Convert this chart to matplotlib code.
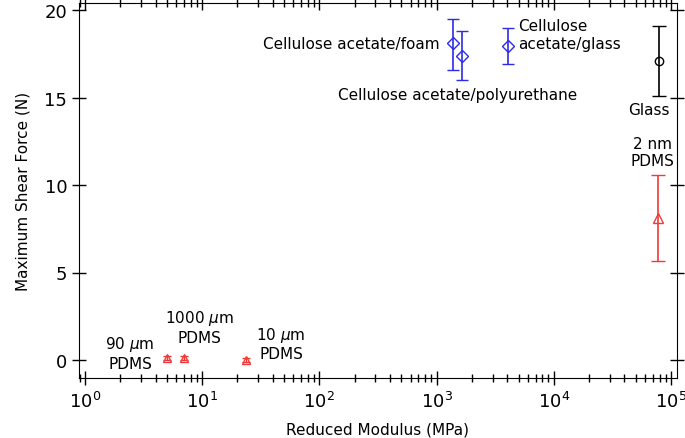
import matplotlib
matplotlib.use("Agg")
import matplotlib.pyplot as plt
from matplotlib.ticker import LogLocator, NullFormatter, MultipleLocator

plt.rcParams['font.family'] = ['DejaVu Sans']

# Data
pdms_x = [5.0, 7.0, 23.6]
pdms_y = [0.10, 0.10, 0.02]
pdms_err = [0.12, 0.12, 0.12]

ca_x = [1380, 1650, 4070]
ca_y = [18.1, 17.4, 17.95]
ca_err_lo = [1.5, 1.4, 1.05]
ca_err_hi = [1.4, 1.4, 1.0]

glass_x = [79000]
glass_y = [17.1]
glass_err_lo = [2.0]
glass_err_hi = [1.97]

nm2_x = [77000]
nm2_y = [8.13]
nm2_err_lo = [2.5]
nm2_err_hi = [2.45]

red = '#f03a3a'
blue = '#2b2be8'

fig = plt.figure(figsize=(6.85, 4.39), dpi=100)
ax = fig.add_axes([79/685, 1-379/439, (677-79)/685, (379-4)/439])

ax.errorbar(pdms_x, pdms_y, yerr=pdms_err, fmt='^', mfc='none', mec=red, ecolor=red,
            ms=6, capsize=3, elinewidth=1, lw=0)
ax.errorbar(ca_x, ca_y, yerr=[ca_err_lo, ca_err_hi], fmt='D', mfc='none', mec=blue, ecolor=blue,
            ms=6, capsize=4.5, elinewidth=1.2)
ax.errorbar(glass_x, glass_y, yerr=[glass_err_lo, glass_err_hi], fmt='o', mfc='none', mec='black',
            ecolor='black', ms=6, capsize=5, elinewidth=1.2)
ax.errorbar(nm2_x, nm2_y, yerr=[nm2_err_lo, nm2_err_hi], fmt='^', mfc='none', mec=red, ecolor=red,
            ms=7, capsize=5, elinewidth=1.2)

dec = 117.2
ax.set_xscale('log')
ax.set_xlim(10**(-6/dec), 10**(5+6/dec))
ax.set_ylim(-(379-361)/17.5, 20 + 7/17.5)

ax.xaxis.set_major_locator(LogLocator(base=10, numticks=10))
ax.xaxis.set_minor_locator(LogLocator(base=10, subs=range(2, 10), numticks=100))
ax.xaxis.set_minor_formatter(NullFormatter())
ax.yaxis.set_major_locator(MultipleLocator(5))

ax.tick_params(which='major', direction='inout', length=10, width=1, labelsize=13,
               top=True, right=True)
ax.tick_params(which='minor', direction='inout', length=6, width=1, top=True, right=True)
ax.tick_params(axis='x', which='major', pad=4)

ax.set_xlabel('Reduced Modulus (MPa)', fontsize=11, labelpad=8)
ax.set_ylabel('Maximum Shear Force (N)', fontsize=11, labelpad=10)

fs = 11
ax.text(1070, 18.1, 'Cellulose acetate/foam', ha='right', va='center', fontsize=fs)
ax.text(4950, 18.6, 'Cellulose\nacetate/glass', ha='left', va='center', fontsize=fs, linespacing=1.2)
ax.text(15800, 15.2, 'Cellulose acetate/polyurethane', ha='right', va='center', fontsize=fs)
ax.text(65000, 14.3, 'Glass', ha='center', va='center', fontsize=fs)
ax.text(68900, 11.9, '2 nm\nPDMS', ha='center', va='center', fontsize=fs, linespacing=1.2)
ax.text(9.5, 1.91, '1000 $\\mu$m\nPDMS', ha='center', va='center', fontsize=fs, linespacing=1.2)
ax.text(2.42, 0.43, '90 $\\mu$m\nPDMS', ha='center', va='center', fontsize=fs, linespacing=1.2)
ax.text(47, 0.97, '10 $\\mu$m\nPDMS', ha='center', va='center', fontsize=fs, linespacing=1.2)

fig.savefig('out.png', dpi=100)
